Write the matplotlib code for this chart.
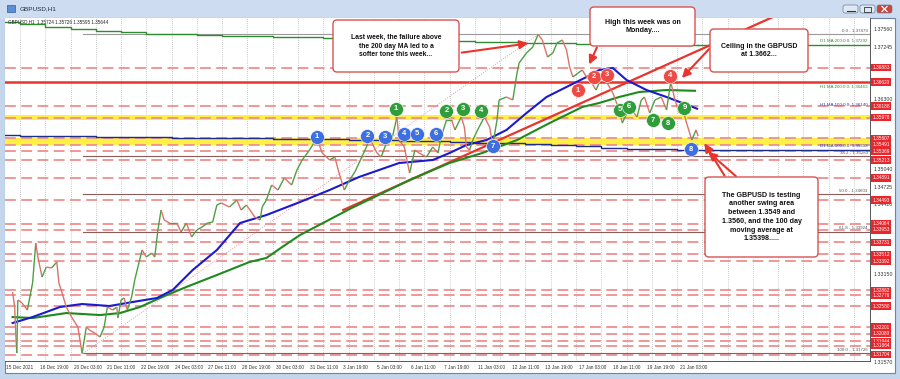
import matplotlib.pyplot as plt
from matplotlib.patches import FancyBboxPatch, Rectangle
from matplotlib.collections import LineCollection

plt.rcParams['font.family'] = ['Liberation Sans', 'DejaVu Sans']

# ---- values ----
# x is the bar index (hours since 15 Dec 00:00, weekends skipped)
date_labels = ['16 Dec 19:00', '20 Dec 03:00', '21 Dec 11:00', '22 Dec 19:00', '24 Dec 03:00',
               '27 Dec 11:00', '28 Dec 19:00', '30 Dec 03:00', '31 Dec 11:00', '3 Jan 19:00',
               '5 Jan 03:00', '6 Jan 11:00', '7 Jan 19:00', '11 Jan 03:00', '12 Jan 11:00',
               '13 Jan 19:00', '17 Jan 03:00', '18 Jan 11:00', '19 Jan 19:00', '21 Jan 03:00']
date_bars = [43 + 32 * i for i in range(len(date_labels))]

price_bars = [17, 19, 20, 21, 22, 26, 31, 36, 39, 41,
              45, 49, 54, 59, 61, 64, 68, 73, 79, 83,
              87, 90, 95, 100, 104, 107, 112, 116, 117, 120,
              123, 126, 130, 133, 136, 140, 144, 149, 152, 155,
              158, 161, 166, 173, 177, 182, 187, 192, 197, 202,
              207, 211, 215, 223, 230, 234, 239, 247, 252, 254,
              258, 263, 269, 275, 282, 287, 292, 299, 306, 311,
              318, 323, 327, 332, 337, 342, 346, 353, 356, 363,
              367, 372, 377, 382, 384, 389, 394, 399, 403, 410,
              416, 421, 424, 429, 434, 437, 443, 446, 448, 451,
              454, 460, 465, 470, 473, 477, 479, 486, 492, 496,
              498, 505, 511, 516, 520, 525, 530, 534, 539, 543,
              546, 549, 554, 558, 562, 567, 571, 576, 581, 587,
              592, 596, 603, 610, 614, 617, 622, 627, 633, 638,
              642, 646, 650, 653, 657, 662, 666, 668]
price_vals = [1.32833, 1.32563, 1.32094, 1.31733, 1.32689, 1.32635, 1.32509, 1.32996, 1.33717, 1.33465,
              1.33104, 1.33284, 1.33266, 1.33375, 1.32996, 1.32815, 1.32563, 1.32382, 1.32202, 1.31726,
              1.32202, 1.32148, 1.32094, 1.32022, 1.32202, 1.32563, 1.32509, 1.32563, 1.32364, 1.32689,
              1.32725, 1.32509, 1.32743, 1.33050, 1.33284, 1.33591, 1.33465, 1.33537, 1.33465, 1.33952,
              1.34313, 1.34132, 1.34078, 1.34078, 1.33916, 1.34078, 1.33826, 1.33952, 1.34006, 1.34078,
              1.34096, 1.34403, 1.34439, 1.34367, 1.34493, 1.34313, 1.34403, 1.34186, 1.34132, 1.34367,
              1.34493, 1.34764, 1.34673, 1.34890, 1.34764, 1.35034, 1.35215, 1.35395, 1.35611, 1.35341,
              1.35215, 1.35269, 1.34980, 1.34673, 1.34854, 1.34998, 1.35160, 1.35449, 1.35611, 1.35341,
              1.35269, 1.35521, 1.35575, 1.35990, 1.35575, 1.35449, 1.34980, 1.35395, 1.35341, 1.35269,
              1.35449, 1.35341, 1.35630, 1.35936, 1.35936, 1.35756, 1.35990, 1.35810, 1.35449, 1.35395,
              1.35575, 1.35810, 1.35990, 1.35810, 1.35485, 1.35936, 1.36297, 1.36351, 1.36297, 1.36784,
              1.36964, 1.37145, 1.37253, 1.37479, 1.37379, 1.37073, 1.37145, 1.37325, 1.37379, 1.37199,
              1.36892, 1.36712, 1.36784, 1.36838, 1.36712, 1.36604, 1.36477, 1.36694, 1.36622, 1.36423,
              1.36171, 1.35882, 1.36171, 1.35990, 1.36297, 1.36351, 1.36062, 1.36297, 1.36351, 1.36117,
              1.36622, 1.36297, 1.36062, 1.36171, 1.35882, 1.35575, 1.35756, 1.35644]

ma100_bars = [17, 36, 62, 83, 109, 131, 154, 169, 188, 211, 233, 258, 290, 318, 346, 384,
              416, 432, 448, 467, 486, 505, 524, 543, 562, 574, 587, 600, 619, 638, 653, 667]
ma100_vals = [1.32274, 1.32382, 1.32563, 1.32617, 1.32581, 1.32653, 1.32725, 1.32869, 1.33230, 1.33591,
              1.34078, 1.34222, 1.34457, 1.34673, 1.34908, 1.35160, 1.35215, 1.35341, 1.35485, 1.35575,
              1.35756, 1.36062, 1.36351, 1.36532, 1.36712, 1.36838, 1.36874, 1.36658, 1.36477, 1.36351,
              1.36243, 1.36140]

ma200_bars = [17, 36, 68, 100, 119, 138, 159, 182, 211, 242, 258, 273, 290, 339, 394, 432,
              463, 496, 527, 558, 574, 593, 612, 638, 665]
ma200_vals = [1.32382, 1.32364, 1.32454, 1.32418, 1.32454, 1.32563, 1.32743, 1.32924, 1.33140, 1.33375,
              1.33447, 1.33645, 1.33862, 1.34349, 1.34854, 1.35161, 1.35341, 1.35575, 1.35882, 1.36171,
              1.36243, 1.36351, 1.36441, 1.36477, 1.36463]

# daily moving averages, one value per trading day
d1_ma200 = [1.37704, 1.37668, 1.37614, 1.37578, 1.37542, 1.37524, 1.37488, 1.37479, 1.37470, 1.37452,
            1.37443, 1.37434, 1.37425, 1.37416, 1.37405, 1.37395, 1.37385, 1.37375, 1.37365, 1.37352,
            1.37340, 1.37330, 1.37320, 1.37312, 1.37305, 1.37300, 1.37296, 1.37292]
d1_ma100 = [1.35660, 1.35650, 1.35645, 1.35640, 1.35635, 1.35630, 1.35625, 1.35620, 1.35615, 1.35610,
            1.35605, 1.35600, 1.35595, 1.35590, 1.35580, 1.35570, 1.35560, 1.35550, 1.35540, 1.35530,
            1.35515, 1.35500, 1.35480, 1.35460, 1.35440, 1.35420, 1.35405, 1.35398]

trend_bars = [331, 739]
trend_vals = [1.34313, 1.37794]
fib_bars = [84, 516]
fib_vals = [1.31726, 1.37479]
fib_names = ['0.0', '38.2', '50.0', '61.8', '100.0']
fib_prices = [1.37479, 1.35283, 1.34603, 1.33924, 1.31726]

ceiling = 1.36620
red_levels = [1.36883, 1.36188, 1.35978, 1.35607, 1.35491, 1.35369, 1.35213, 1.34891, 1.34493,
              1.34064, 1.33953, 1.33731, 1.33512, 1.33392, 1.32862, 1.32776, 1.32580, 1.32201,
              1.32080, 1.31944, 1.31864, 1.31704]
axis_ticks = [1.37560, 1.37245, 1.36300, 1.35040, 1.34725, 1.34410, 1.33150, 1.31570]
yellow_bands = [(1.35945, 1.36020), (1.35491, 1.35607)]

blue_bars = [306, 354, 371, 389, 401, 419, 473, 661]
blue_vals = [1.35630, 1.35648, 1.35630, 1.35684, 1.35684, 1.35684, 1.35467, 1.35413]
green_bars = [381, 429, 445, 462, 594, 602, 625, 639, 655]
green_vals = [1.36135, 1.36099, 1.36135, 1.36099, 1.36117, 1.36171, 1.35936, 1.35882, 1.36153]
red_bars = [554, 569, 581, 641]
red_vals = [1.36477, 1.36712, 1.36748, 1.36730]

W, H = 900, 379
fig = plt.figure(figsize=(9, 3.79), dpi=100)
fig.patch.set_facecolor('#c4d6ec')

# window chrome (pixel coordinates)
bg = fig.add_axes([0, 0, 1, 1], zorder=0)
bg.set_xlim(0, W)
bg.set_ylim(H, 0)
bg.axis('off')
bg.add_patch(Rectangle((0, 0), W, 18, color='#cddcf0'))
bg.add_patch(Rectangle((5, 18), 890, 355, color='white', ec='#6d84a3', lw=0.8))
bg.add_patch(Rectangle((7, 5), 8, 7, fc='#5a8fd6', ec='#2f5c9a', lw=0.5))
bg.text(20, 9, 'GBPUSD,H1', fontsize=4.6, va='center', color='#1e2b3c')
for x0, fc in [(843, '#dfe8f4'), (860, '#dfe8f4'), (877, '#c8473c')]:
    bg.add_patch(FancyBboxPatch((x0, 5), 15, 8, boxstyle='round,pad=0,rounding_size=2',
                                fc=fc, ec='#6b7f99', lw=0.5))
bg.plot([847, 855], [11, 11], color='#333', lw=0.8)
bg.add_patch(Rectangle((864, 7), 7, 4.5, fill=False, ec='#333', lw=0.6))
bg.plot([882, 887], [6.5, 11.5], color='white', lw=0.9)
bg.plot([882, 887], [11.5, 6.5], color='white', lw=0.9)

# chart axes: px 5..870 horizontally, px 18..361 vertically
ax = fig.add_axes([5 / W, 1 - 361 / H, 865 / W, 343 / H], zorder=1)
ax.set_facecolor('white')
ax.set_xlim(9.8, 831.2)
ax.set_ylim(1.31589, 1.37776)
ax.set_xticks([])
ax.set_yticks([])
for s in ['left', 'top']:
    ax.spines[s].set_visible(False)
ax.spines['right'].set_color('#555')
ax.spines['bottom'].set_color('#555')
ax.spines['right'].set_linewidth(0.7)
ax.spines['bottom'].set_linewidth(0.7)

for b in range(24, 832, 24):
    ax.axvline(b, color='#9a9a9a', lw=0.5, ls=(0, (1, 2)), zorder=1)

for lo, hi in yellow_bands:
    ax.axhspan(lo, hi, color='#ffee22', alpha=0.85, lw=0, zorder=1.5)

for p in red_levels:
    ax.axhline(p, color='#ee8f8f', lw=1.3, ls=(0, (6, 3)), zorder=2)
ax.axhline(ceiling, color='#e8342c', lw=1.8, zorder=2)

for name, p in zip(fib_names, fib_prices):
    c = '#999999' if name == '0.0' else '#8a5c5c'
    ax.plot([fib_bars[0], 831], [p, p], color=c, lw=0.8, zorder=2.2)
    ax.text(829, p + 0.00025, f'{name} - {p:.5f}', fontsize=3.2, ha='right', va='bottom',
            color='#555555', zorder=6)
ax.plot(fib_bars, fib_vals, color='#e89a9a', lw=0.7, ls=(0, (1, 1.5)), zorder=2.2)

# daily MAs as steps
day_edges = [24 * i for i in range(len(d1_ma200) + 1)]
for vals, col in [(d1_ma200, '#2e8b2e'), (d1_ma100, '#1c2c8a')]:
    xs, ys = [], []
    for i, v in enumerate(vals):
        xs += [max(day_edges[i], 9.8), min(day_edges[i + 1], 668)]
        ys += [v, v]
    ax.plot(xs, ys, color=col, lw=1.0, zorder=2.5)
    ax.plot([668, 831], [vals[-1], vals[-1]], color=col, lw=1.0, zorder=2.5)
ax.text(829, d1_ma200[-1] + 0.00025, 'D1 MA:200:0:0: 1.37292', fontsize=3.2, ha='right',
        va='bottom', color='#2e8b2e', zorder=6)
ax.text(829, d1_ma100[-1] + 0.00025, 'D1 MA:100:0:0: 1.35398', fontsize=3.2, ha='right',
        va='bottom', color='#2a3aa8', zorder=6)
ax.text(829, ma200_vals[-1] + 0.00025, 'H1 MA:200:0:0: 1.36463', fontsize=3.2, ha='right',
        va='bottom', color='#2e8b2e', zorder=6)
ax.text(829, ma100_vals[-1] + 0.00025, 'H1 MA:100:0:0: 1.36140', fontsize=3.2, ha='right',
        va='bottom', color='#2a3aa8', zorder=6)

ax.plot(trend_bars, trend_vals, color='#e8342c', lw=1.6, zorder=3)
ax.plot(ma200_bars, ma200_vals, color='#1e8a1e', lw=1.5, zorder=3)
ax.plot(ma100_bars, ma100_vals, color='#1a1ad0', lw=1.5, zorder=3)

# price path: green on up moves, red on down moves
segs, cols = [], []
for i in range(1, len(price_bars)):
    segs.append([(price_bars[i - 1], price_vals[i - 1]), (price_bars[i], price_vals[i])])
    cols.append('#4f9e45' if price_vals[i] >= price_vals[i - 1] else '#d9736b')
ax.add_collection(LineCollection(segs, colors=cols, linewidths=1.0, zorder=3.5))

for bars, vals, col in [(blue_bars, blue_vals, '#3d6fe0'), (green_bars, green_vals, '#2f9e3a'),
                        (red_bars, red_vals, '#ee4b45')]:
    ax.plot(bars, vals, 'o', ms=10, color=col, mec='white', mew=0.4, zorder=4)
    for i, (b, v) in enumerate(zip(bars, vals)):
        ax.text(b, v, str(i + 1), fontsize=5.5, fontweight='bold', color='white',
                ha='center', va='center', zorder=4.5)

# price scale on the right
for p in axis_ticks:
    ax.text(1.004, p, f'{p:.5f}', transform=ax.get_yaxis_transform(), fontsize=3.8,
            va='center', ha='left', color='#333333', clip_on=False)
for p in red_levels + [ceiling]:
    ax.text(1.003, p, f'{p:.5f}', transform=ax.get_yaxis_transform(), fontsize=3.4,
            va='center', ha='left', color='white', clip_on=False, zorder=7,
            bbox=dict(boxstyle='square,pad=0.25', fc='#e8262c', ec='none'))

# time scale
ax.text(11, -0.018, '15 Dec 2021', transform=ax.get_xaxis_transform(), fontsize=3.4,
        va='center', ha='left', color='#333333', clip_on=False)
for b, lab in zip(date_bars, date_labels):
    ax.text(b, -0.018, lab, transform=ax.get_xaxis_transform(), fontsize=3.4,
            va='center', ha='left', color='#333333', clip_on=False)

ax.text(13, 1.3771, 'GBPUSD,H1  1.35724 1.35726 1.35595 1.35644', fontsize=3.3,
        color='#222222', va='center', zorder=6)

# callouts (pixel coordinates)
ov = fig.add_axes([0, 0, 1, 1], zorder=5)
ov.set_xlim(0, W)
ov.set_ylim(H, 0)
ov.axis('off')
ov.patch.set_alpha(0)

def callout(x0, y0, x1, y1, text, fs):
    ov.add_patch(FancyBboxPatch((x0, y0), x1 - x0, y1 - y0,
                                boxstyle='round,pad=0,rounding_size=4',
                                fc='white', ec='#d9534f', lw=1.0, zorder=3))
    ov.text((x0 + x1) / 2, (y0 + y1) / 2, text, fontsize=fs, fontweight='bold',
            ha='center', va='center', linespacing=1.35, color='#111111', zorder=4)

def arrow(x0, y0, x1, y1):
    ov.annotate('', xy=(x1, y1), xytext=(x0, y0),
                arrowprops=dict(arrowstyle='-|>,head_length=0.5,head_width=0.25',
                                color='#e8342c', lw=1.5), zorder=2)

arrow(459, 53, 531, 43)
arrow(598, 45, 588, 67)
arrow(711, 47, 680, 80)
arrow(726, 178, 703, 141)
arrow(738, 178, 706, 150)
callout(333, 20, 459, 72, 'Last week, the failure above\nthe 200 day MA led to a\nsofter tone this week...', 4.9)
callout(590, 7, 695, 46, 'High this week was on\nMonday....', 5.1)
callout(710, 29, 808, 72, 'Ceiling in the GBPUSD\nat 1.3662...', 5.0)
callout(705, 177, 818, 257, 'The GBPUSD is testing\nanother swing area\nbetween 1.3549 and\n'
        '1.3560, and the 100 day\nmoving average at\n1.35398.....', 5.1)

fig.savefig('out.png', dpi=100)
